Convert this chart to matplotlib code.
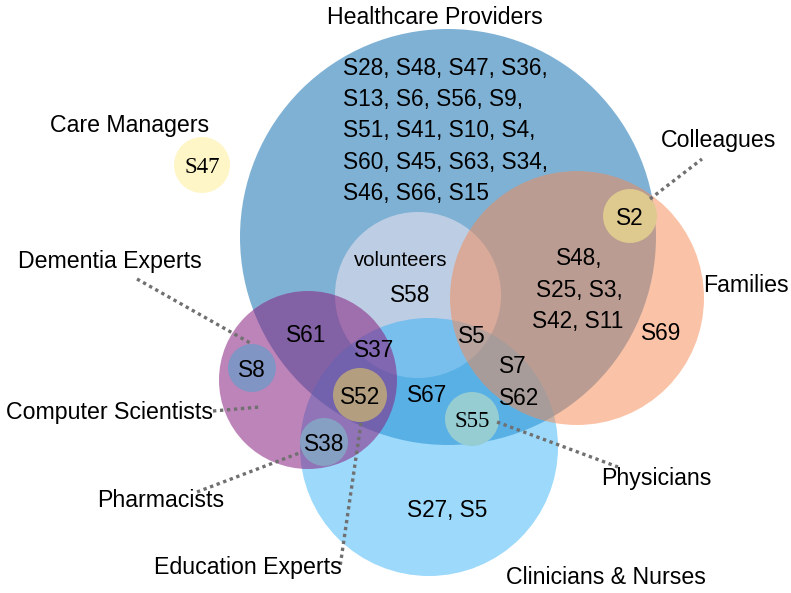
import matplotlib.pyplot as plt
from matplotlib.patches import Circle

# big sets: name, center x, center y, radius (pixel space), colour, alpha
set_names = ["Healthcare Providers", "volunteers", "Clinicians & Nurses", "Families", "Computer Scientists"]
set_cx = [448, 418, 429, 577, 308]
set_cy = [237, 295, 447, 298, 380]
set_r = [208, 83, 129, 127, 89]
set_colors = ["#1f77b4", "#e6e1f0", "#30b0f8", "#f78951", "#882080"]
set_alpha = [0.57, 0.6, 0.48, 0.5, 0.55]

# small single-study circles
small_names = ["Care Managers", "Colleagues", "Dementia Experts", "Education Experts", "Pharmacists", "Physicians"]
small_labels = ["S47", "S2", "S8", "S52", "S38", "S55"]
small_cx = [202, 630, 252, 360, 324, 472]
small_cy = [165, 216, 368, 395, 442, 419]
small_r = [28, 27, 24, 27, 24, 27]
small_colors = ["#fff6c8", "#dec98f", "#8195c5", "#b39e80", "#86a0c3", "#96cdd2"]
small_serif = [True, False, False, False, False, True]

# healthcare providers only list
hp_lines = ["S28, S48, S47, S36,", "S13, S6, S56, S9,", "S51, S41, S10, S4,",
            "S60, S45, S63, S34,", "S46, S66, S15"]

# other region texts (text, x, baseline y)
region_text = ["volunteers", "S58", "S48,", "S25, S3,", "S42, S11", "S69", "S5", "S7", "S62",
               "S67", "S27, S5", "S61", "S37"]
region_x = [401, 410, 579, 579, 578, 661, 472, 513, 519, 427, 447, 306, 374]
region_y = [266, 302, 265, 297, 328, 340, 343, 373, 405, 402, 517, 342, 357]

# outer labels (text, center x, baseline y)
label_text = ["Healthcare Providers", "Care Managers", "Colleagues", "Families", "Dementia Experts",
              "Computer Scientists", "Pharmacists", "Education Experts", "Physicians", "Clinicians & Nurses"]
label_x = [435, 130, 719, 746, 110, 110, 161, 248, 656, 606]
label_y = [24, 132, 147, 292, 268, 419, 507, 574, 485, 584]

# dotted leader lines
leader_x = [(650, 702), (137, 252), (213, 260), (197, 302), (361, 340), (497, 618)]
leader_y = [(199, 159), (279, 344), (411, 407), (492, 452), (423, 567), (422, 467)]

fig = plt.figure(figsize=(7.91, 5.93), dpi=100)
ax = fig.add_axes([0, 0, 1, 1])
ax.set_xlim(0, 791)
ax.set_ylim(593, 0)
ax.axis("off")

# draw order: providers, volunteers, clinicians, families, computer scientists
for i in [0, 1, 2, 3, 4]:
    ax.add_patch(Circle((set_cx[i], set_cy[i]), set_r[i], facecolor=set_colors[i],
                        alpha=set_alpha[i], edgecolor="none"))

for xs, ys in zip(leader_x, leader_y):
    ax.plot(xs, ys, color="#707070", lw=2.4, linestyle=(0, (1, 1.1)), solid_capstyle="butt")

for i in range(len(small_labels)):
    ax.add_patch(Circle((small_cx[i], small_cy[i]), small_r[i], facecolor=small_colors[i],
                        edgecolor="none"))
    fam = "Liberation Serif" if small_serif[i] else "Liberation Sans"
    ax.text(small_cx[i], small_cy[i], small_labels[i], ha="center", va="center_baseline",
            fontsize=16.5 if small_serif[i] else 16.3, family=fam)

for k, line in enumerate(hp_lines):
    ax.text(343, 75 + 31.2 * k, line, ha="left", va="baseline", fontsize=16.3, family="Liberation Sans")

for t, x, y in zip(region_text, region_x, region_y):
    fs = 14.6 if t == "volunteers" else 16.3
    ax.text(x, y, t, ha="center", va="baseline", fontsize=fs, family="Liberation Sans")

for t, x, y in zip(label_text, label_x, label_y):
    ax.text(x, y, t, ha="center", va="baseline", fontsize=16.7, family="Liberation Sans")

fig.savefig("out.png", dpi=100)
